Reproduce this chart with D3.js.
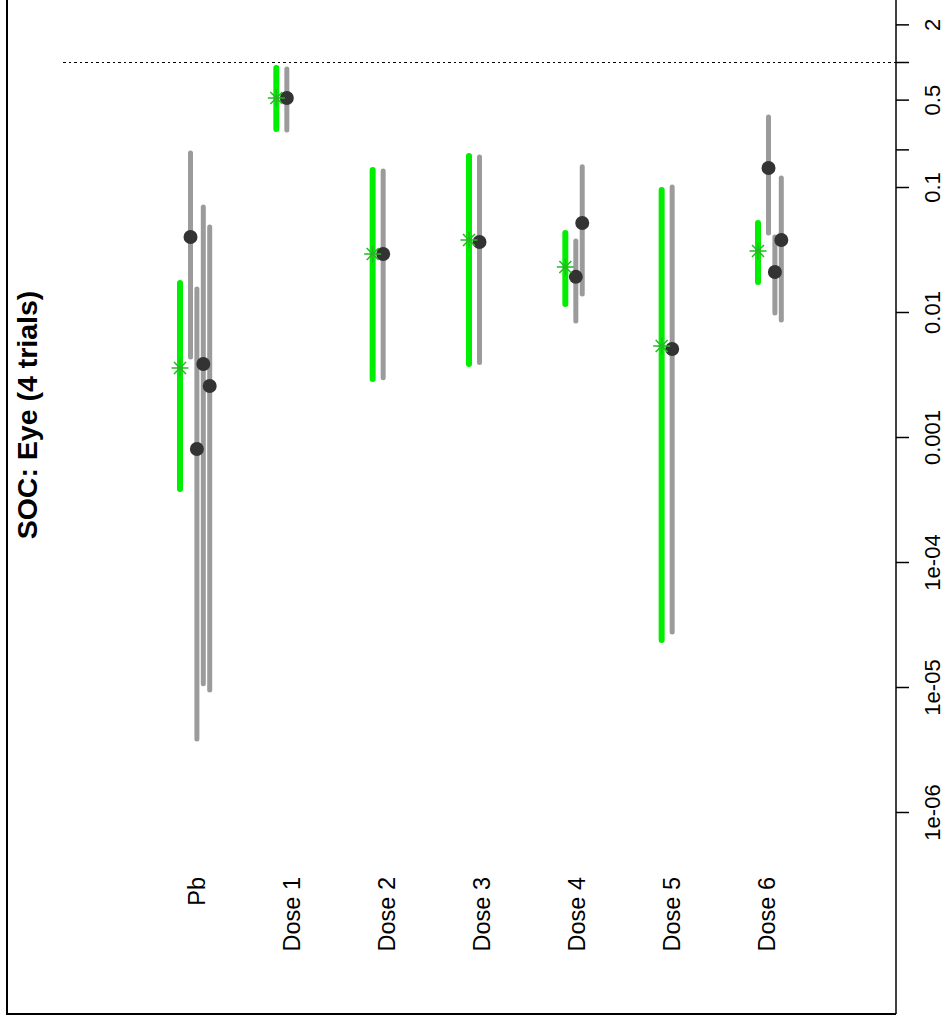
<!DOCTYPE html>
<html>
<head>
<meta charset="utf-8">
<script src="https://cdn.jsdelivr.net/npm/d3@7"></script>
<style>
  body { margin: 0; background: #fff; }
  svg { display: block; font-family: "Liberation Sans", Arial, sans-serif; }
</style>
</head>
<body>
<script>
const width = 952;
const height = 1024;

// groups along the bottom
const groups = ["Pb", "Dose 1", "Dose 2", "Dose 3", "Dose 4", "Dose 5", "Dose 6"];

// pooled estimate (green) per group: point, lower, upper
const pooledEst = [0.00356, 0.515, 0.0291, 0.0377, 0.0229, 0.00535, 0.0308];
const pooledLo  = [0.000384, 0.291, 0.00291, 0.00384, 0.0116, 0.0000238, 0.0174];
const pooledHi  = [0.0171, 0.895, 0.137, 0.177, 0.0429, 0.0946, 0.0515];

// single trial estimates (gray) per group
const trialEst = [
  [0.0398, 0.000802, 0.00384, 0.00256],
  [0.515],
  [0.0291],
  [0.0363],
  [0.0191, 0.0515],
  [0.00506],
  [0.142, 0.0209, 0.0377]
];
const trialLo = [
  [0.00437, 0.00000384, 0.0000106, 0.00000946],
  [0.286],
  [0.00298],
  [0.00394],
  [0.00847, 0.0139],
  [0.0000275],
  [0.0429, 0.0098, 0.00863]
];
const trialHi = [
  [0.187, 0.0153, 0.0692, 0.0479],
  [0.879],
  [0.134],
  [0.174],
  [0.037, 0.145],
  [0.1],
  [0.363, 0.0398, 0.118]
];

const tickVals = [2, 1, 0.5, 0.2, 0.1, 0.01, 0.001, 1e-4, 1e-5, 1e-6];
const tickText = ["2", "", "0.5", "", "0.1", "0.01", "0.001", "1e-04", "1e-05", "1e-06"];

const svg = d3.select("body").append("svg")
    .attr("width", width)
    .attr("height", height);

const y = d3.scaleLog().domain([1e-6, 1]).range([812, 62]);
const xMark = d3.scaleLinear().domain([0, 6]).range([180, 758]);
const xLab = d3.scaleLinear().domain([0, 6]).range([197, 767]);
const trialStep = 6.4;
const trialOff = 10.5;

// box (left, bottom) - top is open
svg.append("path")
    .attr("d", "M7,0V1014H896")
    .attr("fill", "none")
    .attr("stroke", "#000")
    .attr("stroke-width", 2);

// reference line at 1
svg.append("line")
    .attr("x1", 63).attr("x2", 896)
    .attr("y1", y(1) + 0.5).attr("y2", y(1) + 0.5)
    .attr("stroke", "#000")
    .attr("stroke-width", 1.2)
    .attr("stroke-dasharray", "2.5,3")
    .attr("shape-rendering", "crispEdges");

// right axis
const axis = svg.append("g")
    .attr("transform", "translate(896,0)")
    .call(d3.axisRight(y)
        .tickValues(tickVals)
        .tickFormat((d, i) => tickText[i])
        .tickSize(13)
        .tickSizeOuter(0));

axis.select(".domain").remove();
axis.append("line")
    .attr("y1", 0).attr("y2", 1014)
    .attr("stroke", "#000")
    .attr("stroke-width", 1.5);
axis.selectAll(".tick line").attr("stroke-width", 1.5);
axis.selectAll(".tick text")
    .attr("transform", "rotate(-90)")
    .attr("x", 0)
    .attr("y", 44)
    .attr("dy", 0)
    .attr("text-anchor", "middle")
    .attr("font-size", 22)
    .attr("font-family", "Liberation Sans, Arial, sans-serif")
    .attr("fill", "#000");

// group labels
svg.append("g")
    .selectAll("text")
    .data(groups)
    .join("text")
    .attr("transform", (d, i) => `translate(${xLab(i)},877) rotate(-90)`)
    .attr("dy", "0.35em")
    .attr("text-anchor", "end")
    .attr("font-size", 23.5)
    .text(d => d);

// title
svg.append("text")
    .attr("transform", "translate(27,415) rotate(-90)")
    .attr("dy", "0.35em")
    .attr("text-anchor", "middle")
    .attr("font-size", 28.5)
    .attr("font-weight", "bold")
    .text("SOC: Eye (4 trials)");

// trial intervals
const trials = [];
trialEst.forEach((arr, g) => arr.forEach((v, j) => {
    trials.push({ g: g, j: j, est: v, lo: trialLo[g][j], hi: trialHi[g][j] });
}));
const tx = d => xMark(d.g) + trialOff + trialStep * d.j;

svg.append("g")
    .selectAll("line")
    .data(trials)
    .join("line")
    .attr("x1", tx).attr("x2", tx)
    .attr("y1", d => y(d.hi))
    .attr("y2", d => y(d.lo))
    .attr("stroke", "#9b9b9b")
    .attr("stroke-width", 5)
    .attr("stroke-linecap", "round");

// pooled intervals
svg.append("g")
    .selectAll("line")
    .data(groups)
    .join("line")
    .attr("x1", (d, i) => xMark(i)).attr("x2", (d, i) => xMark(i))
    .attr("y1", (d, i) => y(pooledHi[i]))
    .attr("y2", (d, i) => y(pooledLo[i]))
    .attr("stroke", "#00ee00")
    .attr("stroke-width", 6)
    .attr("stroke-linecap", "round");

// trial points
svg.append("g")
    .selectAll("circle")
    .data(trials)
    .join("circle")
    .attr("cx", tx)
    .attr("cy", d => y(d.est))
    .attr("r", 7)
    .attr("fill", "#333333");

// pooled asterisks
svg.append("g")
    .selectAll("path")
    .data(groups)
    .join("path")
    .attr("transform", (d, i) => `translate(${xMark(i)},${y(pooledEst[i])})`)
    .attr("d", "M-8.5,0H8.5M0,-8.5V8.5M-6,-6L6,6M-6,6L6,-6")
    .attr("fill", "none")
    .attr("stroke", "#22bb22")
    .attr("stroke-width", 1.5);
</script>
</body>
</html>
